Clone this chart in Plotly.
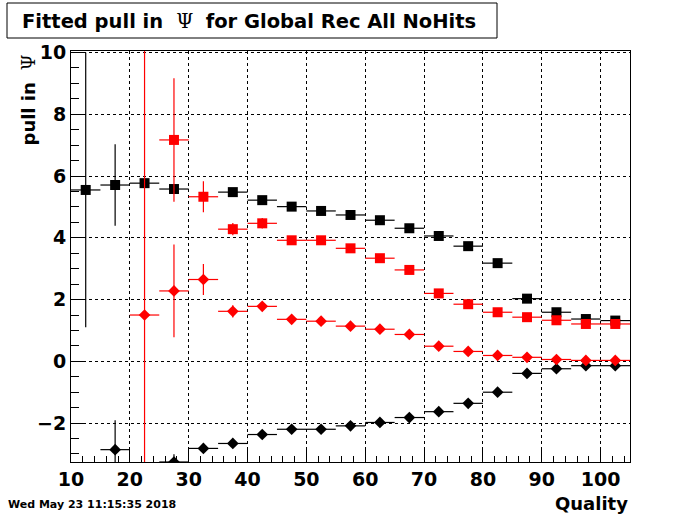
import plotly.graph_objects as go

# Bin centres (Quality)
quality = [12.5, 17.5, 22.5, 27.5, 32.5, 37.5, 42.5, 47.5, 52.5, 57.5,
           62.5, 67.5, 72.5, 77.5, 82.5, 87.5, 92.5, 97.5, 102.5]
bin_half_width = [2.5] * len(quality)

# Black squares
blk_sq = [5.55, 5.71, 5.77, 5.58, None, 5.48, 5.22, 5.01, 4.87, 4.74,
          4.57, 4.31, 4.06, 3.73, 3.18, 2.03, 1.59, 1.37, 1.32]
blk_sq_err = [4.45, 1.32, 0.05, 0.05, 0, 0.05, 0.04, 0.04, 0.03, 0.03,
              0.03, 0.03, 0.03, 0.03, 0.03, 0.03, 0.03, 0.03, 0.03]

# Red squares
red_sq = [None, None, None, 7.17, 5.33, 4.28, 4.47, 3.92, 3.92, 3.66,
          3.34, 2.96, 2.20, 1.85, 1.59, 1.43, 1.33, 1.21, 1.21]
red_sq_err = [0, 0, 0, 2.0, 0.5, 0.2, 0.17, 0.05, 0.04, 0.04,
              0.04, 0.04, 0.03, 0.03, 0.03, 0.03, 0.03, 0.03, 0.03]

# Red diamonds
red_dm = [None, None, 1.50, 2.28, 2.65, 1.62, 1.78, 1.36, 1.30, 1.14,
          1.04, 0.87, 0.49, 0.32, 0.19, 0.13, 0.06, 0.03, 0.03]
red_dm_err = [0, 0, 20.0, 1.5, 0.5, 0.2, 0.05, 0.04, 0.04, 0.03,
              0.03, 0.03, 0.03, 0.03, 0.03, 0.03, 0.03, 0.03, 0.03]

# Black diamonds
blk_dm = [None, -2.86, None, -3.26, -2.82, -2.66, -2.37, -2.20, -2.20, -2.09,
          -1.98, -1.82, -1.63, -1.36, -1.00, -0.39, -0.24, -0.14, -0.14]
blk_dm_err = [0, 0.95, 0, 0.25, 0.05, 0.05, 0.04, 0.04, 0.03, 0.03,
              0.03, 0.03, 0.03, 0.03, 0.03, 0.03, 0.03, 0.03, 0.03]

x_tick_vals = [10, 20, 30, 40, 50, 60, 70, 80, 90, 100]
y_tick_vals = [-2, 0, 2, 4, 6, 8, 10]

FONT = "DejaVu Sans"


def series(y, err, color, symbol, size):
    return go.Scatter(
        x=quality, y=y, mode="markers",
        marker=dict(symbol=symbol, size=size, color=color, line=dict(width=0)),
        error_x=dict(type="data", array=bin_half_width, color=color, thickness=1.2, width=0),
        error_y=dict(type="data", array=err, color=color, thickness=1.2, width=0),
        showlegend=False, hoverinfo="skip",
    )


fig = go.Figure()
fig.add_trace(series(blk_sq, blk_sq_err, "black", "square", 10))
fig.add_trace(series(blk_dm, blk_dm_err, "black", "diamond", 9))
fig.add_trace(series(red_sq, red_sq_err, "red", "square", 10))
fig.add_trace(series(red_dm, red_dm_err, "red", "diamond", 9))

W, H = 700, 514
L, T, R, B = 71, 51, 70, 52
pw, ph = W - L - R, H - T - B


def px(xp):
    return (xp - L) / pw


def py(yp):
    return (H - B - yp) / ph


fig.update_layout(
    width=W, height=H,
    margin=dict(l=L, r=R, t=T, b=B),
    paper_bgcolor="white", plot_bgcolor="white",
    font=dict(family=FONT, color="black"),
    xaxis=dict(
        range=[10, 105], tickvals=x_tick_vals,
        ticks="inside", ticklen=12, tickcolor="black", tickwidth=1,
        minor=dict(dtick=2, tick0=10, ticks="inside", ticklen=6, tickcolor="black", showgrid=False),
        showgrid=True, gridcolor="black", griddash="dot", gridwidth=1,
        showline=True, linecolor="black", linewidth=1, mirror=True,
        zeroline=False,
        tickfont=dict(family=FONT, size=19, weight="bold"),
    ),
    yaxis=dict(
        range=[-3.26, 10.05], tickvals=y_tick_vals,
        ticks="inside", ticklen=13, tickcolor="black", tickwidth=1,
        minor=dict(dtick=0.5, tick0=0, ticks="inside", ticklen=8, tickcolor="black", showgrid=False),
        showgrid=True, gridcolor="black", griddash="dot", gridwidth=1,
        showline=True, linecolor="black", linewidth=1, mirror=True,
        zeroline=False,
        tickfont=dict(family=FONT, size=19, weight="bold"),
    ),
    shapes=[
        dict(type="rect", xref="paper", yref="paper",
             x0=px(7), x1=px(497), y0=py(38), y1=py(3),
             line=dict(color="black", width=1), fillcolor="white"),
    ],
    annotations=[
        dict(xref="paper", yref="paper", x=px(249), y=py(21),
             xanchor="center", yanchor="middle", showarrow=False,
             text="<b>Fitted pull in </b> <span style='font-family:DejaVu Serif;font-weight:normal'>Ψ</span>  <b>for Global Rec All NoHits</b>",
             font=dict(family=FONT, size=19.5, color="black")),
        dict(xref="paper", yref="paper", x=px(28), y=py(53),
             xanchor="center", yanchor="top", showarrow=False, textangle=-90,
             text="<b>pull in </b> <span style='font-family:DejaVu Serif;font-weight:normal'>Ψ</span>",
             font=dict(family=FONT, size=18, color="black")),
        dict(xref="paper", yref="paper", x=px(630), y=py(503),
             xanchor="right", yanchor="middle", showarrow=False,
             text="<b>Quality</b>",
             font=dict(family=FONT, size=18, color="black")),
        dict(xref="paper", yref="paper", x=px(6), y=py(504),
             xanchor="left", yanchor="middle", showarrow=False,
             text="<b>Wed May 23 11:15:35 2018</b>",
             font=dict(family=FONT, size=11, color="black")),
    ],
)

fig.write_html(
    "out.html",
    config={"displayModeBar": False, "staticPlot": True},
    post_script="document.body.style.margin='0';document.body.style.overflow='hidden';",
)
